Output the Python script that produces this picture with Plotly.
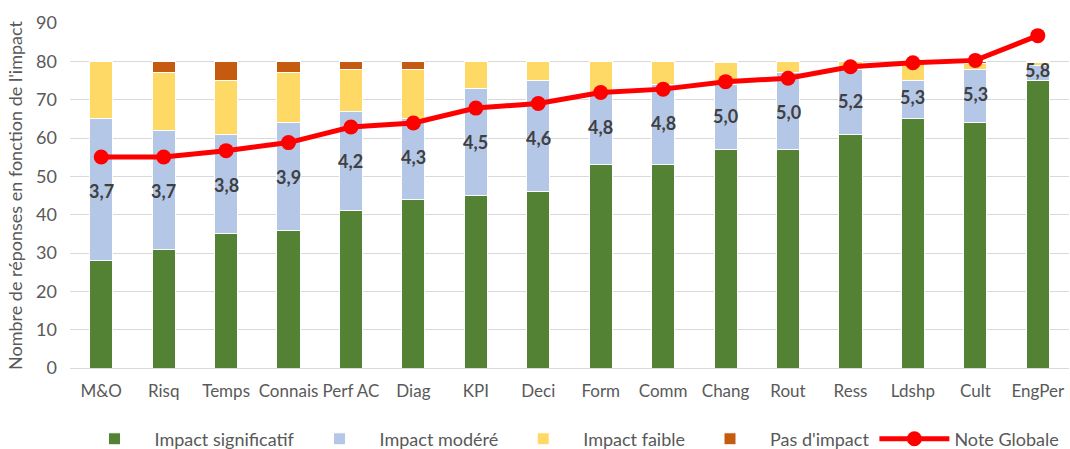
import plotly.graph_objects as go

categories = ["M&O", "Risq", "Temps", "Connais", "Perf AC", "Diag", "KPI", "Deci",
              "Form", "Comm", "Chang", "Rout", "Ress", "Ldshp", "Cult", "EngPer"]
impact_significatif = [28, 31, 35, 36, 41, 44, 45, 46, 53, 53, 57, 57, 61, 65, 64, 75]
impact_modere = [37, 31, 26, 28, 26, 21, 28, 29, 19, 21, 17, 20, 17, 10, 14, 4]
impact_faible = [15, 15, 14, 13, 11, 13, 7, 5, 8, 6, 5.7, 3, 2, 5, 1.5, 0.6]
pas_impact = [0, 3, 5, 3, 2, 2, 0, 0, 0, 0, 0.3, 0, 0, 0, 0.5, 0.4]
note_globale = [3.67, 3.67, 3.78, 3.92, 4.19, 4.26, 4.52, 4.60,
                4.79, 4.85, 4.98, 5.04, 5.24, 5.31, 5.35, 5.78]

FONT = "Lato, 'Open Sans', sans-serif"

fig = go.Figure()
bar_series = [
    ("Impact significatif", impact_significatif, "#548235"),
    ("Impact modéré", impact_modere, "#B4C7E7"),
    ("Impact faible", impact_faible, "#FFD966"),
    ("Pas d'impact", pas_impact, "#C55A11"),
]
for name, vals, color in bar_series:
    fig.add_trace(go.Bar(
        x=categories, y=vals, name=name,
        marker={"color": color, "line": {"color": "white", "width": 1}},
    ))

fig.add_trace(go.Scatter(
    x=categories, y=note_globale, name="Note Globale", yaxis="y2",
    mode="lines+markers",
    line={"color": "#FF0000", "width": 5},
    marker={"color": "#FF0000", "size": 15},
))

# note labels sit below each marker, like the Excel "below" label position
for cat, note in zip(categories, note_globale):
    fig.add_annotation(
        x=cat, y=note, yref="y2", text=f"{note:.1f}".replace(".", ","),
        showarrow=False, yshift=-34,
        font={"family": FONT, "size": 18, "color": "#404040", "weight": "bold"},
    )

fig.update_layout(
    barmode="stack",
    bargap=0.63,
    width=1070,
    height=449,
    margin={"l": 70, "r": 1, "t": 23, "b": 81, "autoexpand": False},
    plot_bgcolor="white",
    paper_bgcolor="white",
    font={"family": FONT, "size": 18, "color": "#595959"},
    legend={"orientation": "h", "x": 0.5, "xanchor": "center", "y": -0.206,
            "yanchor": "middle", "font": {"size": 18, "color": "#595959"},
            "traceorder": "normal", "itemwidth": 70},
    xaxis={"showgrid": False, "ticks": "", "tickfont": {"size": 17}, "tickangle": 0,
           "range": [-0.5, 15.5], "ticklabelstandoff": 8,
           "showline": True, "linecolor": "#D9D9D9", "automargin": False},
    yaxis={"range": [0, 90], "dtick": 10, "gridcolor": "#D9D9D9", "gridwidth": 1.3,
           "zeroline": False, "tickfont": {"size": 18}, "automargin": False,
           "ticklabelstandoff": 12,
           "title": {"text": "Nombre de réponses en fonction de l'impact",
                     "font": {"size": 18, "color": "#595959"}, "standoff": 8}},
    yaxis2={"range": [0, 6], "overlaying": "y", "side": "right", "visible": False},
)

# drop the default 8px page margin so the figure fills the window exactly
fig.write_html(
    "out.html",
    config={"displayModeBar": False},
    post_script="document.body.style.margin='0';document.body.style.overflow='hidden';",
)
